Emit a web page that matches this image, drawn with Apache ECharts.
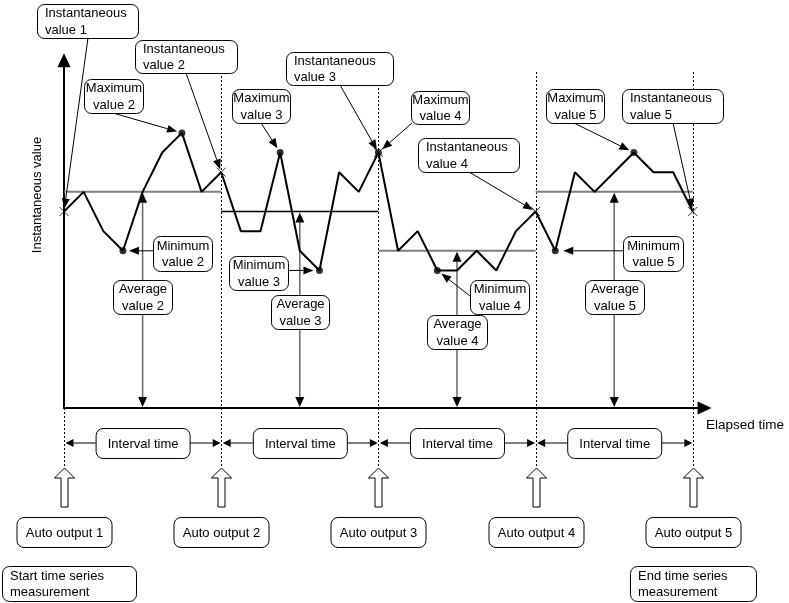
<!DOCTYPE html>
<html><head><meta charset="utf-8">
<script src="https://cdn.jsdelivr.net/npm/echarts@6/dist/echarts.min.js"></script>
<style>html,body{margin:0;padding:0;background:#fff}#c{width:789px;height:603px}</style>
</head><body><div id="c"></div>
<script>
// ---- data ----
const sampleValues = [10, 11, 9, 8, 11, 13, 14, 11, 12, 9, 9, 13, 8, 7, 12, 11, 13, 8, 9, 7, 7, 8, 7, 9, 10, 8, 12, 11, 12, 13, 12, 12, 10];
const intervalBounds = [0, 8, 16, 24, 32];
const instantIdx = [0, 8, 16, 24, 32];
const maxIdx = [6, 11, 16, 29];
const minIdx = [3, 13, 19, 25];
const avgValues = [11, 10, 8, 11];
const autoOutputLabels = ['Auto output 1', 'Auto output 2', 'Auto output 3', 'Auto output 4', 'Auto output 5'];
const intervalLabel = 'Interval time';
const yAxisName = 'Instantaneous value';
const xAxisName = 'Elapsed time';

const FONT = '13px "Liberation Sans", Arial, sans-serif';
const chart = echarts.init(document.getElementById('c'), null, {renderer: 'canvas'});

const series = [
  {type: 'line', data: sampleValues.map((v, i) => [i, v]), symbol: 'none', lineStyle: {color: '#000', width: 2}, z: 5, silent: true}
];
avgValues.forEach((a, i) => {
  series.push({type: 'line', data: [[intervalBounds[i], a], [intervalBounds[i + 1], a]], symbol: 'none',
    lineStyle: {color: i === 1 ? '#000' : '#7f7f7f', width: i === 1 ? 1.5 : 2}, z: 3, silent: true});
});
series.push({type: 'scatter', data: instantIdx.map(i => [i, sampleValues[i]]), symbol: 'path://M0,0L10,10M10,0L0,10', symbolSize: 9,
  itemStyle: {color: 'none', borderColor: '#000', borderWidth: 1}, z: 6, silent: true});
series.push({type: 'scatter', data: maxIdx.concat(minIdx).map(i => [i, sampleValues[i]]), symbol: 'circle', symbolSize: 7,
  itemStyle: {color: '#000'}, z: 7, silent: true});

chart.setOption({
  animation: false,
  grid: {left: 64, top: 60.2, width: 640.6, height: 347.8},
  xAxis: {type: 'value', min: 0, max: 32.6, axisLabel: {show: false}, axisTick: {show: false}, splitLine: {show: false},
    axisLine: {onZero: false, lineStyle: {color: '#000', width: 2}, symbol: ['none', 'triangle'], symbolSize: [13, 14]}},
  yAxis: {type: 'value', min: 0, max: 17.7, axisLabel: {show: false}, axisTick: {show: false}, splitLine: {show: false},
    axisLine: {onZero: false, lineStyle: {color: '#000', width: 2}, symbol: ['none', 'triangle'], symbolSize: [13, 14]}},
  series: series
});

const P = (x, y) => chart.convertToPixel({gridIndex: 0}, [x, y]);
const G = [];
function box(x1, y1, x2, y2, lines, align) {
  G.push({type: 'rect', shape: {x: x1 + 0.5, y: y1 + 0.5, width: x2 - x1, height: y2 - y1, r: 7},
    style: {fill: '#fff', stroke: '#000', lineWidth: 1}, z: 100});
  const n = lines.length, lh = 16.5, cy = (y1 + y2) / 2 + 1;
  lines.forEach((t, i) => {
    G.push({type: 'text', x: align === 'left' ? x1 + 8 : (x1 + x2) / 2 + 0.5, y: cy + (i - (n - 1) / 2) * lh,
      style: {text: t, font: FONT, fill: '#000', textAlign: align, textVerticalAlign: 'middle'}, z: 101});
  });
}
function arrow(x1, y1, x2, y2, o) {
  o = o || {};
  const len = o.len || 10, hw = o.hw || 4;
  const dx = x2 - x1, dy = y2 - y1, d = Math.hypot(dx, dy), ux = dx / d, uy = dy / d;
  const bx = x2 - ux * len, by = y2 - uy * len;
  G.push({type: 'line', shape: {x1: x1, y1: y1, x2: bx, y2: by}, style: {stroke: o.color || '#000', lineWidth: o.lw || 1}, z: o.z || 90});
  G.push({type: 'polygon', shape: {points: [[x2, y2], [bx - uy * hw, by + ux * hw], [bx + uy * hw, by - ux * hw]]},
    style: {fill: '#000'}, z: o.z || 90});
}
function pointer(x1, y1, idx, gap) {
  const p = P(idx, sampleValues[idx]);
  const dx = p[0] - x1, dy = p[1] - y1, d = Math.hypot(dx, dy);
  arrow(x1, y1, p[0] - dx / d * gap, p[1] - dy / d * gap, {len: 10, hw: 4});
}

// dotted vertical lines
const yAxisPix = P(0, 0)[1];
intervalBounds.forEach((b, i) => {
  const x = Math.round(P(b, 0)[0]) + 0.5;
  G.push({type: 'line', shape: {x1: x, y1: i === 0 ? yAxisPix : 72, x2: x, y2: 468},
    style: {stroke: '#000', lineWidth: 1, lineDash: [2, 2]}, z: 1});
});

// average arrows
avgValues.forEach((a, i) => {
  const mid = (intervalBounds[i] + intervalBounds[i + 1]) / 2;
  const top = P(mid, a), bot = P(mid, 0);
  const cy = (top[1] + bot[1]) / 2;
  arrow(top[0], cy, top[0], top[1] + 1, {len: 10, hw: 4.5, color: '#666', lw: 1.5, z: 4});
  arrow(top[0], cy, top[0], bot[1] - 1, {len: 10, hw: 4.5, color: '#666', lw: 1.5, z: 4});
});

// interval time row
for (let i = 0; i < intervalBounds.length - 1; i++) {
  const xa = P(intervalBounds[i], 0)[0], xb = P(intervalBounds[i + 1], 0)[0];
  const mid = (xa + xb) / 2;
  box(mid - 47, 428, mid + 47, 458, [intervalLabel], 'center');
  arrow(mid - 47, 443, xa + 1.5, 443, {len: 8, hw: 4});
  arrow(mid + 47, 443, xb - 0.5, 443, {len: 8, hw: 4});
}

// hollow arrows and auto output boxes
intervalBounds.forEach((b, i) => {
  const x = Math.round(P(b, 0)[0]) + 0.5;
  G.push({type: 'polygon', shape: {points: [[x, 468], [x + 10, 478], [x + 3.5, 478], [x + 3.5, 507], [x - 3.5, 507], [x - 3.5, 478], [x - 10, 478]]},
    style: {fill: '#fff', stroke: '#000', lineWidth: 1}, z: 50});
  box(x - 48, 517, x + 47, 547, [autoOutputLabels[i]], 'center');
});
box(2, 566, 136, 601, ['Start time series', 'measurement'], 'left');
box(630, 566, 756, 601, ['End time series', 'measurement'], 'left');

// upper annotations
box(37, 4, 138, 38, ['Instantaneous', 'value 1'], 'left'); pointer(88, 38, instantIdx[0], 3);
box(135, 40, 237, 73, ['Instantaneous', 'value 2'], 'left'); pointer(186, 73, instantIdx[1], 3);
box(84, 79, 143, 113, ['Maximum', 'value 2'], 'center'); pointer(113, 113, maxIdx[0], 5);
box(232, 89, 290, 123, ['Maximum', 'value 3'], 'center'); pointer(261, 123, maxIdx[1], 5);
box(286, 52, 393, 85, ['Instantaneous', 'value 3'], 'left'); pointer(340, 85, instantIdx[2], 3);
box(411, 91, 469, 124, ['Maximum', 'value 4'], 'center'); pointer(412, 123, maxIdx[2], 5);
box(418, 138, 519, 172, ['Instantaneous', 'value 4'], 'left'); pointer(469, 172, instantIdx[3], 3);
box(546, 89, 604, 123, ['Maximum', 'value 5'], 'center'); pointer(574, 123, maxIdx[3], 5);
box(622, 89, 723, 123, ['Instantaneous', 'value 5'], 'left'); pointer(673, 123, instantIdx[4], 3);

// lower annotations
box(153, 236, 212, 271, ['Minimum', 'value 2'], 'center'); pointer(153, P(minIdx[0], sampleValues[minIdx[0]])[1], minIdx[0], 6);
box(113, 280, 172, 314, ['Average', 'value 2'], 'center');
box(229, 256, 288, 290, ['Minimum', 'value 3'], 'center'); pointer(288, P(minIdx[1], sampleValues[minIdx[1]])[1], minIdx[1], 6);
box(271, 295, 329, 329, ['Average', 'value 3'], 'center');
box(470, 280, 529, 314, ['Minimum', 'value 4'], 'center'); pointer(470, 296, minIdx[2], 5);
box(427, 315, 487, 349, ['Average', 'value 4'], 'center');
box(623, 236, 683, 271, ['Minimum', 'value 5'], 'center'); pointer(623, P(minIdx[3], sampleValues[minIdx[3]])[1], minIdx[3], 8);
box(585, 280, 644, 314, ['Average', 'value 5'], 'center');

// axis names
G.push({type: 'text', x: 37, y: 195, rotation: Math.PI / 2,
  style: {text: yAxisName, font: FONT, fill: '#000', textAlign: 'center', textVerticalAlign: 'middle'}, z: 101});
G.push({type: 'text', x: 706, y: 425,
  style: {text: xAxisName, font: '13.5px "Liberation Sans", Arial, sans-serif', fill: '#000', textAlign: 'left', textVerticalAlign: 'middle'}, z: 101});

chart.setOption({graphic: {elements: G}});
</script>
</body></html>
